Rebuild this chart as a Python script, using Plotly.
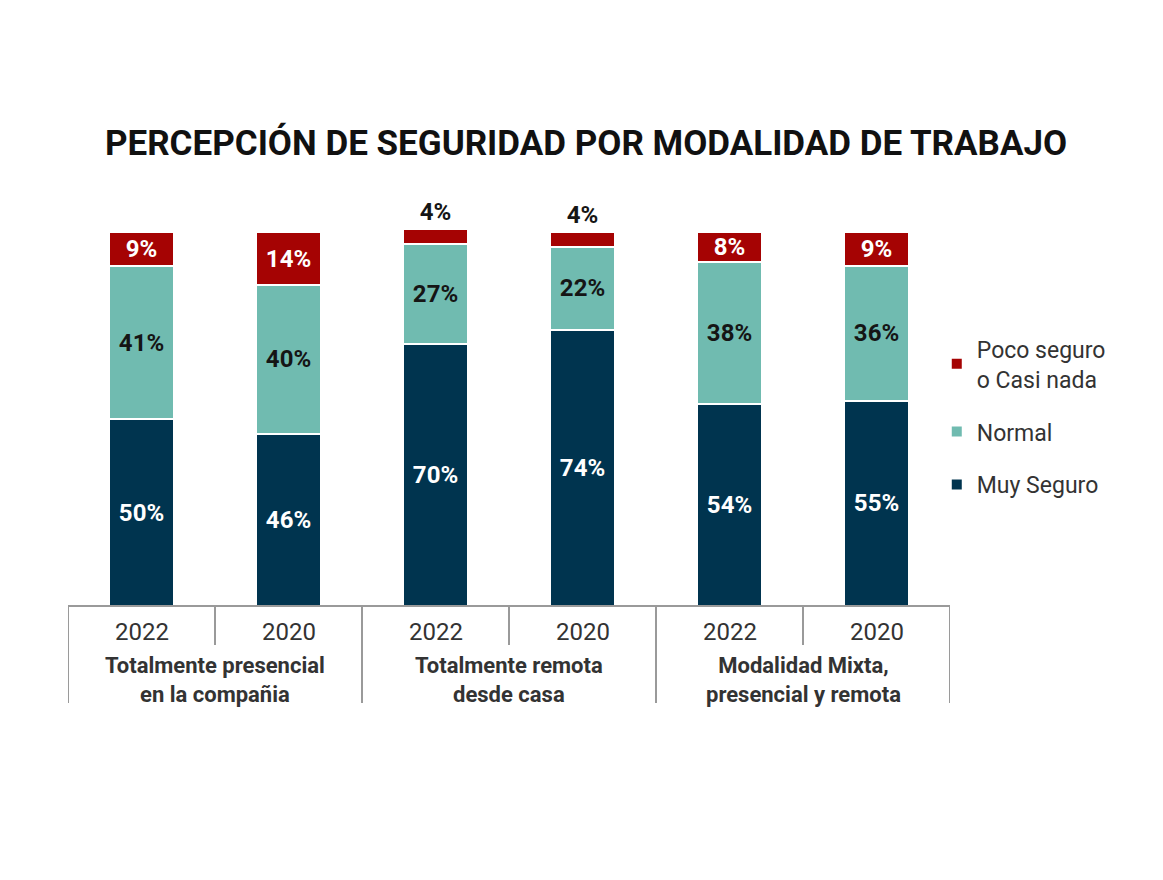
import plotly.graph_objects as go

# datos
grupos = ['Totalmente presencial<br>en la compañia',
          'Totalmente remota<br>desde casa',
          'Modalidad Mixta,<br>presencial y remota']
anios = ['2022', '2020']
muy_seguro = [50, 46, 70, 74, 54, 55]
normal = [41, 40, 27, 22, 38, 36]
poco_seguro = [9, 14, 4, 4, 8, 9]

c_rojo = '#a50303'
c_verde = '#70bbb0'
c_azul = '#00344f'
c_linea = '#9a9a9a'
fuente = 'Roboto'

x = list(range(len(muy_seguro)))


def etiquetas(vals):
    return [f'{v}%' for v in vals]


fig = go.Figure()
fig.add_trace(go.Bar(
    x=x, y=muy_seguro, name='Muy Seguro',
    marker=dict(color=c_azul, line=dict(color='white', width=2)),
    text=etiquetas(muy_seguro), textposition='inside', insidetextanchor='middle',
    insidetextfont=dict(color='white', size=24, family=fuente, weight='bold'),
    legendgroup='a', legendrank=3, width=0.44,
))
fig.add_trace(go.Bar(
    x=x, y=normal, name='Normal',
    marker=dict(color=c_verde, line=dict(color='white', width=2)),
    text=etiquetas(normal), textposition='inside', insidetextanchor='middle',
    insidetextfont=dict(color='#151515', size=24, family=fuente, weight='bold'),
    legendgroup='b', legendrank=2, width=0.44,
))
# los 4% van por fuera de la barra
pos_rojo = ['outside' if v < 6 else 'inside' for v in poco_seguro]
fig.add_trace(go.Bar(
    x=x, y=poco_seguro, name='Poco seguro<br>o Casi nada',
    marker=dict(color=c_rojo, line=dict(color='white', width=2)),
    text=etiquetas(poco_seguro), textposition=pos_rojo, insidetextanchor='middle',
    insidetextfont=dict(color='white', size=24, family=fuente, weight='bold'),
    outsidetextfont=dict(color='#151515', size=24, family=fuente, weight='bold'),
    cliponaxis=False, legendgroup='c', legendrank=1, width=0.44,
))

# eje inferior agrupado, dibujado a mano
shapes = [dict(type='line', xref='x', yref='paper', x0=-0.5, x1=len(x) - 0.5,
               y0=0, y1=0, line=dict(color=c_linea, width=2))]
annotations = []
for g, nombre in enumerate(grupos):
    izq = g * 2 - 0.5
    shapes.append(dict(type='line', xref='x', yref='paper', x0=izq, x1=izq,
                       y0=0, y1=-0.236, line=dict(color=c_linea, width=2)))
    shapes.append(dict(type='line', xref='x', yref='paper', x0=izq + 1, x1=izq + 1,
                       y0=0, y1=-0.095, line=dict(color=c_linea, width=2)))
    for k, a in enumerate(anios):
        annotations.append(dict(x=g * 2 + k, y=-0.063, xref='x', yref='paper',
                                text=a, showarrow=False, yanchor='middle',
                                font=dict(size=24, color='#333333', family=fuente)))
    annotations.append(dict(x=g * 2 + 0.5, y=-0.181, xref='x', yref='paper',
                            text=nombre, showarrow=False, yanchor='middle',
                            font=dict(size=22, color='#333333', family=fuente, weight='bold')))
shapes.append(dict(type='line', xref='x', yref='paper', x0=len(x) - 0.5, x1=len(x) - 0.5,
                   y0=0, y1=-0.236, line=dict(color=c_linea, width=2)))

fig.update_layout(
    width=1163, height=880,
    barmode='stack',
    paper_bgcolor='white', plot_bgcolor='white',
    margin=dict(l=60, r=221, t=187, b=282),
    title=dict(text='PERCEPCIÓN DE SEGURIDAD POR MODALIDAD DE TRABAJO',
               x=0.497, xanchor='center', y=1 - 135 / 880, yanchor='middle',
               font=dict(family=fuente, size=35, color='#111111', weight='bold')),
    xaxis=dict(range=[-0.5, len(x) - 0.5], showticklabels=False, showgrid=False,
               zeroline=False, showline=False, fixedrange=True),
    yaxis=dict(range=[0, 110], visible=False, fixedrange=True),
    legend=dict(x=0.985, xanchor='left', y=0.678, yanchor='top', traceorder='grouped',
                font=dict(size=23, color='#333333', family=fuente),
                tracegroupgap=20, bgcolor='rgba(0,0,0,0)'),
    uniformtext=dict(minsize=24, mode='show'),
    shapes=shapes, annotations=annotations,
    showlegend=True,
)

fig.write_html('out.html')
